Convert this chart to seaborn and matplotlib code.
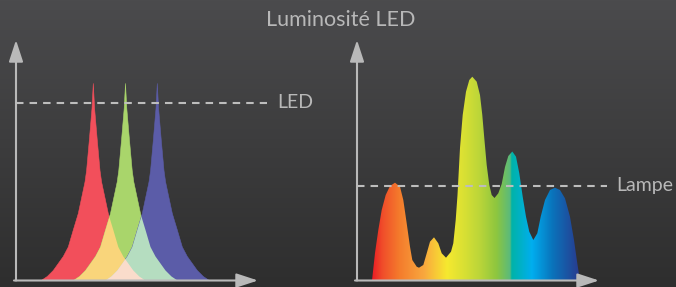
import numpy as np
import pandas as pd
import matplotlib
matplotlib.use("Agg")
import matplotlib.pyplot as plt
from matplotlib.colors import LinearSegmentedColormap
import seaborn as sns

# ---------------- data ----------------
title = "Luminosité LED"
led_label = "LED"
lamp_label = "Lampe"

# LED emission profile (offset from peak, intensity)
led_offsets = [-52, -46, -40, -35, -30, -25, -20, -15, -11.6, -8.3, -6.7, -4, -1.3, 0,
               1.3, 4, 6.7, 8.3, 11.6, 15, 20, 25, 30, 35, 40, 46, 52]
led_profile = [0, 4, 10, 17, 24, 33.5, 50.5, 67, 83, 98.5, 110, 140, 172, 197,
               172, 140, 110, 98.5, 83, 67, 50.5, 33.5, 24, 17, 10, 4, 0]
led_names = ["rouge", "vert", "bleu"]
led_centers = [77.3, 109.5, 141.3]
led_level = 177.5

# lamp spectrum
lamp_x = [15, 18, 21.3, 24.7, 28.7, 33, 38, 43, 46.3, 49.7, 53, 55.3, 59.7, 62, 66.3,
          69.7, 73, 77, 81.3, 84.7, 89, 94, 96.3, 98.7, 100.5, 103, 105.7, 109, 112.3,
          115.3, 119.7, 123, 125.3, 127.3, 129.7, 132.3, 134.7, 137.5, 141.3, 144.7,
          148, 151.3, 155.3, 159, 162.3, 165.7, 169, 172.3, 176.3, 180.3, 183.7, 188,
          193, 198, 203, 208, 213, 217, 220.3, 223]
lamp_y = [0, 27.5, 50.5, 70.5, 85.5, 94.5, 97.8, 93.8, 80.5, 57.2, 33.8, 20.5, 13.8,
          12.8, 15.5, 27.2, 38.8, 43.2, 37.2, 27.2, 22.8, 28.8, 37.2, 60.5, 85.5, 132.5,
          165.5, 188.8, 200.5, 203.8, 198.8, 185.5, 165.5, 142.2, 115.5, 95.5, 85.5,
          82.5, 87.2, 96.5, 113.5, 124.5, 129, 123.8, 107.2, 83.8, 63.8, 48.8, 40.5,
          47.2, 63.8, 80.5, 90.5, 92.8, 90.5, 82.2, 63.8, 40.5, 17.2, 0]
lamp_level = 94.5

# ---------------- style ----------------
W, H = 676, 287
sns.set_theme(style="white")
plt.rcParams["font.family"] = ["Lato", "DejaVu Sans"]

txt_col = "#b8b8b8"
axis_col = "#b9b9b9"
dash_col = "#bdbdbd"
led_cols = {"rouge": "#f24f5b", "vert": "#a9d56b", "bleu": "#5b5ca8"}
mix_rg = "#f9d57b"
mix_gb = "#b5ddc0"
mix_rgb = "#fadccb"

fig = plt.figure(figsize=(W / 100, H / 100), dpi=100)

# background gradient
bg = fig.add_axes([0, 0, 1, 1], zorder=-10)
bg_cmap = LinearSegmentedColormap.from_list("bg", ["#4b4b4d", "#2e2e2e"])
bg.imshow(np.linspace(0, 1, 256)[:, None], aspect="auto", cmap=bg_cmap,
          extent=[0, 1, 0, 1])
bg.set_axis_off()

XMAX, YMAX = 242, 240.5


def make_axes(left_px):
    ax = fig.add_axes([left_px / W, 6.5 / H, XMAX / W, YMAX / H])
    ax.set_xlim(0, XMAX)
    ax.set_ylim(0, YMAX)
    ax.set_axis_off()
    ax.patch.set_alpha(0)
    ap = dict(arrowstyle="-|>,head_length=1.1,head_width=0.36", color=axis_col,
              lw=1.5, shrinkA=0, shrinkB=0)
    ax.annotate("", xy=(0, YMAX), xytext=(0, 0), arrowprops=ap,
                annotation_clip=False, zorder=5)
    ax.annotate("", xy=(XMAX, 0), xytext=(-2, 0), arrowprops=ap,
                annotation_clip=False, zorder=5)
    return ax


axL = make_axes(16)
axR = make_axes(357)

# ---------------- left: LEDs ----------------
polys = {}
for name, c in zip(led_names, led_centers):
    xs = np.array(led_offsets) + c
    poly = axL.fill(xs, led_profile, color=led_cols[name], lw=0, zorder=2)[0]
    polys[name] = (xs, poly)
    df = pd.DataFrame({"x": xs, "y": led_profile})
    sns.lineplot(data=df, x="x", y="y", ax=axL, color=led_cols[name], lw=0.4,
                 sort=False, zorder=2)


def overlap(base, clip, col, z):
    xs = polys[base][0]
    p = axL.fill(xs, led_profile, color=col, lw=0, zorder=z)[0]
    p.set_clip_path(polys[clip][1])


overlap("rouge", "vert", mix_rg, 3)
overlap("vert", "bleu", mix_gb, 3)
overlap("rouge", "bleu", mix_rgb, 4)

dash = (0, (3.6, 2.9))
sns.lineplot(x=[0, 251], y=[led_level, led_level], ax=axL, color=dash_col, lw=1.5,
             linestyle=dash, zorder=6)
axL.lines[-1].set_clip_on(False)
axL.text(261.5, led_level, led_label, color=txt_col, fontsize=14, va="center",
         ha="left", fontweight="normal", clip_on=False)

# ---------------- right: lamp spectrum ----------------
spec_cmap = LinearSegmentedColormap.from_list("spec", [
    (0.0, "#ea1d25"), (0.05, "#f04e2a"), (0.13, "#f47b2c"), (0.25, "#f9a83e"),
    (0.36, "#f6e92f"), (0.45, "#d6df34"), (0.52, "#bad539"), (0.60, "#8dc63f"),
    (0.665, "#5aba7c"), (0.672, "#00b3a7"), (0.77, "#00aeef"), (0.87, "#0a73bb"),
    (1.0, "#293a8e")])
spec_poly = axR.fill(lamp_x, lamp_y, color="none", lw=0, zorder=2)[0]
im = axR.imshow(np.linspace(0, 1, 512)[None, :], aspect="auto", cmap=spec_cmap,
                extent=[lamp_x[0], lamp_x[-1], 0, max(lamp_y) + 2], zorder=2)
im.set_clip_path(spec_poly)
axR.set_xlim(0, XMAX)
axR.set_ylim(0, YMAX)

sns.lineplot(x=[0, 250], y=[lamp_level, lamp_level], ax=axR, color=dash_col, lw=1.5,
             linestyle=dash, zorder=6)
axR.lines[-1].set_clip_on(False)
axR.text(259.5, lamp_level, lamp_label, color=txt_col, fontsize=14, va="center",
         ha="left", fontweight="normal", clip_on=False)

fig.text(341 / W, 1 - 19.5 / H, title, color=txt_col, fontsize=15.5,
         ha="center", va="center", fontweight="normal")

fig.savefig("out.png", dpi=100)
